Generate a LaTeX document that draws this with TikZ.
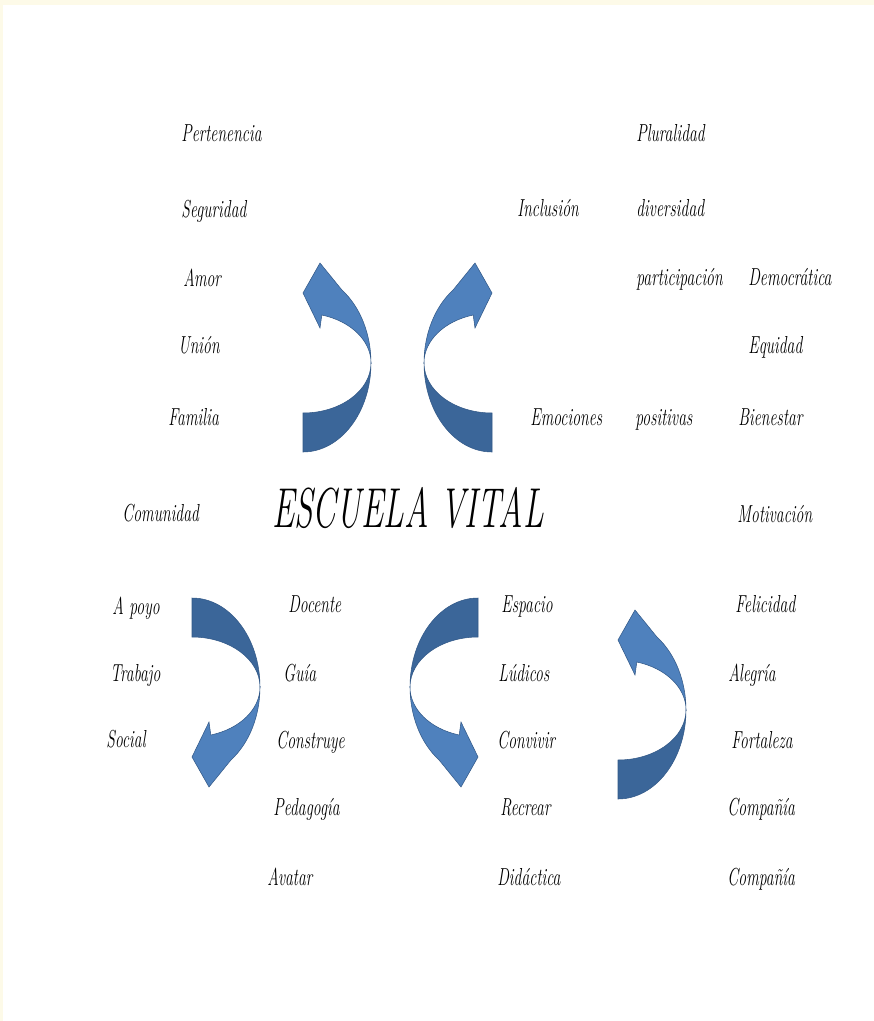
\documentclass[tikz,border=0pt]{standalone}
\usepackage{graphicx}

\definecolor{azulclaro}{RGB}{79,129,189}
\definecolor{azuloscuro}{RGB}{59,102,153}
\definecolor{borde}{RGB}{50,88,135}
\definecolor{crema}{RGB}{253,250,232}

\newcommand{\estrecho}[1]{\scalebox{0.64}[1]{#1}}

\tikzset{
  flecha/.pic={
    % cola (parte oscura)
    \filldraw[fill=azuloscuro, draw=borde, line width=0.3pt]
      (0,89) arc[start angle=90, end angle=0, x radius=68, y radius=89]
      arc[start angle=0, end angle=90, x radius=68, y radius=50] -- cycle;
    % cabeza (parte clara)
    \filldraw[fill=azulclaro, draw=borde, line width=0.3pt]
      (68,0) arc[start angle=0, end angle=-55, x radius=68, y radius=89]
      -- (17,-100) -- (0,-70) -- (17,-35) -- (18.8,-48)
      arc[start angle=-74, end angle=0, x radius=68, y radius=50] -- cycle;
  }
}

\begin{document}
\begin{tikzpicture}[x=0.02cm,y=-0.02cm]
  \tikzstyle{palabra}=[anchor=west,inner sep=0pt,text height=9pt,text depth=3pt,font=\fontsize{14}{16}\selectfont\itshape]

  \useasboundingbox (0,0) rectangle (874,1021);
  \fill[white] (0,0) rectangle (874,1021);
  \fill[crema] (0,0) rectangle (874,5);
  \fill[crema] (0,0) rectangle (3,1021);

  % flechas
  \pic at (303,363) {flecha};
  \pic[xscale=-1] at (492,363) {flecha};
  \pic[yscale=-1] at (192,687) {flecha};
  \pic[xscale=-1,yscale=-1] at (478,687) {flecha};
  \pic at (618,710) {flecha};

  \node[font=\fontsize{32}{36}\selectfont\itshape] (titulo) at (408,508) {\scalebox{0.6}[1]{ESCUELA VITAL}};

  % arriba izquierda
  \node[palabra] (pertenencia) at (181,136) {\estrecho{Pertenencia}};
  \node[palabra] (seguridad) at (181,212) {\estrecho{Seguridad}};
  \node[palabra] (amor) at (183,281) {\estrecho{Amor}};
  \node[palabra] (union) at (178,348) {\estrecho{Unión}};
  \node[palabra] (familia) at (168,420) {\estrecho{Familia}};
  \node[palabra] (comunidad) at (122,516) {\estrecho{Comunidad}};

  % arriba derecha
  \node[palabra] (pluralidad) at (636,136) {\estrecho{Pluralidad}};
  \node[palabra] (inclusion) at (517,211) {\estrecho{Inclusión}};
  \node[palabra] (diversidad) at (636,211) {\estrecho{diversidad}};
  \node[palabra] (participacion) at (636,280) {\estrecho{participación}};
  \node[palabra] (democratica) at (748,280) {\estrecho{Democrática}};
  \node[palabra] (equidad) at (748,348) {\estrecho{Equidad}};
  \node[palabra] (emociones) at (530,420) {\estrecho{Emociones}};
  \node[palabra] (positivas) at (635,420) {\estrecho{positivas}};
  \node[palabra] (bienestar) at (738,420) {\estrecho{Bienestar}};
  \node[palabra] (motivacion) at (737,517) {\estrecho{Motivación}};

  % abajo izquierda
  \node[palabra] (apoyo) at (112,609) {\estrecho{A poyo}};
  \node[palabra] (trabajo) at (110,676) {\estrecho{Trabajo}};
  \node[palabra] (social) at (106,742) {\estrecho{Social}};
  \node[palabra] (docente) at (288,607) {\estrecho{Docente}};
  \node[palabra] (guia) at (283,676) {\estrecho{Guía}};
  \node[palabra] (construye) at (276,743) {\estrecho{Construye}};
  \node[palabra] (pedagogia) at (273,810) {\estrecho{Pedagogía}};
  \node[palabra] (avatar) at (267,880) {\estrecho{Avatar}};

  % abajo derecha
  \node[palabra] (espacio) at (501,607) {\estrecho{Espacio}};
  \node[palabra] (ludicos) at (498,676) {\estrecho{Lúdicos}};
  \node[palabra] (convivir) at (497,743) {\estrecho{Convivir}};
  \node[palabra] (recrear) at (500,810) {\estrecho{Recrear}};
  \node[palabra] (didactica) at (497,880) {\estrecho{Didáctica}};
  \node[palabra] (felicidad) at (735,607) {\estrecho{Felicidad}};
  \node[palabra] (alegria) at (728,676) {\estrecho{Alegría}};
  \node[palabra] (fortaleza) at (731,743) {\estrecho{Fortaleza}};
  \node[palabra] (compania1) at (727,810) {\estrecho{Compañía}};
  \node[palabra] (compania2) at (727,880) {\estrecho{Compañía}};
\end{tikzpicture}
\end{document}
